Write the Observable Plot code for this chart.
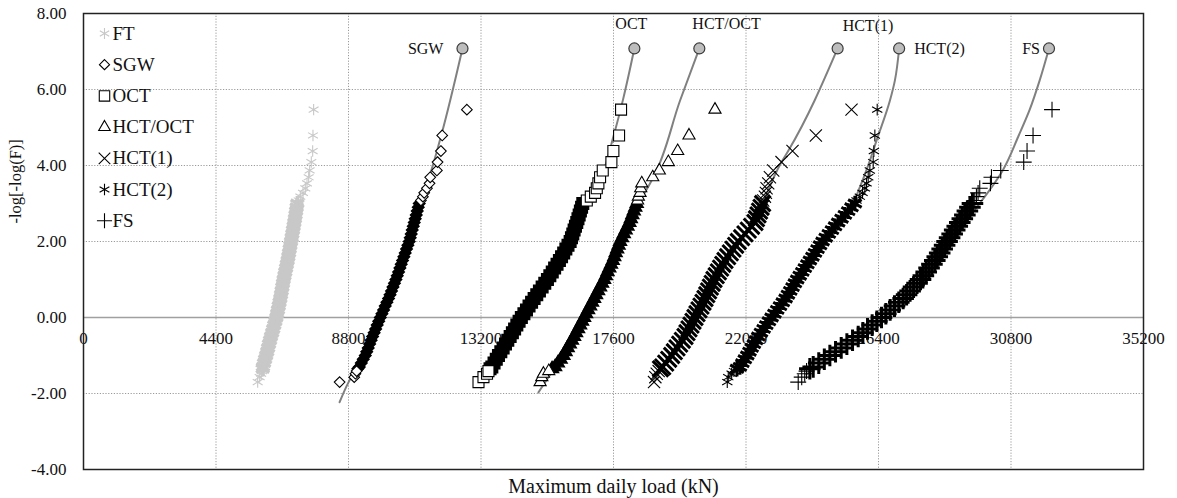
<!DOCTYPE html>
<html>
<head>
<meta charset="utf-8">
<script src="https://cdn.jsdelivr.net/npm/d3@7"></script>
<script src="https://cdn.jsdelivr.net/npm/@observablehq/plot@0.6"></script>
<style>
  html, body { margin: 0; padding: 0; background: #fff; }
  #chart { width: 1177px; height: 498px; }
  #chart svg text { font-family: "Liberation Serif", "Times New Roman", serif; }
</style>
</head>
<body>
<div id="chart"></div>
<script>
// ---- Data ----
const seriesNames = ["FT", "SGW", "OCT", "HCT/OCT", "HCT(1)", "HCT(2)", "FS"];

// Reduced variate -log[-log(F)] of the plotted points (shared by all series)
const yLevels = [-1.70,-1.57,-1.48,-1.41,-1.35,
  -1.30,-1.20,-1.10,-1.00,-0.90,-0.80,-0.70,-0.60,-0.50,-0.40,-0.30,-0.20,-0.10,0.00,
  0.10,0.20,0.30,0.40,0.50,0.60,0.70,0.80,0.90,1.00,1.10,1.20,1.30,1.40,1.50,1.60,1.70,1.80,1.90,2.00,
  2.10,2.20,2.30,2.40,2.50,2.60,2.70,2.80,2.90,3.00,
  3.08,3.18,3.28,3.40,3.53,3.69,3.87,4.09,4.38,4.79,5.47];

// Maximum daily load (kN) of each series at those levels
const xFT = [5784,5850,5900,5930,5950,
  5960,5995,6030,6065,6100,6130,6160,6195,6227,6265,6300,6335,6370,6404,
  6430,6458,6484,6510,6536,6558,6580,6603,6625,6647,6674,6700,6727,6753,6780,6802,6825,6847,6869,6891,
  6913,6935,6957,6979,7001,7021,7041,7060,7080,7100,
  7145,7200,7289,7366,7422,7477,7510,7565,7610,7620,7642];
const xSGW = [8505,8990,9030,9070,9110,
  9158,9225,9290,9357,9405,9455,9503,9552,9600,9651,9702,9753,9804,9855,
  9910,9965,10020,10075,10130,10179,10228,10277,10326,10375,10419,10463,10507,10551,10595,10639,10683,10727,10772,10817,
  10850,10883,10916,10950,10983,11016,11050,11083,11116,11149,
  11204,11270,11314,11404,11491,11513,11735,11757,11868,11912,12731];
const xOCT = [13117,13282,13400,13448,13500,
  13560,13633,13707,13780,13858,13935,14013,14090,14168,14242,14316,14390,14465,14540,
  14625,14710,14795,14880,14964,15052,15140,15230,15318,15406,15486,15566,15645,15725,15804,15875,15946,16018,16089,16160,
  16204,16248,16292,16336,16380,16420,16460,16500,16540,16580,
  16713,16846,16988,17045,17098,17154,17243,17530,17596,17785,17851];
const xHCTOCT = [15163,15219,15273,15450,15560,
  15661,15753,15845,15937,16008,16079,16149,16220,16291,16357,16424,16490,16557,16623,
  16689,16756,16822,16889,16955,17021,17088,17154,17221,17287,17345,17402,17460,17517,17575,17624,17672,17721,17769,17818,
  17880,17942,18003,18065,18127,18176,18225,18273,18322,18371,
  18400,18426,18481,18504,18538,18903,19122,19421,19731,20107,20970];
const xHCT1 = [18946,18990,19035,19100,19160,
  19234,19333,19433,19532,19620,19709,19797,19886,19974,20040,20107,20173,20240,20306,
  20372,20439,20505,20572,20638,20698,20758,20817,20877,20937,21010,21083,21156,21229,21302,21390,21479,21567,21656,21744,
  21855,21965,22076,22186,22297,22348,22399,22450,22501,22552,
  22572,22628,22661,22683,22738,22794,22904,23180,23545,24320,25504];
const xHCT2 = [21378,21411,21524,21600,21700,
  21799,21880,21961,22042,22115,22188,22261,22334,22407,22496,22585,22673,22762,22850,
  22943,23036,23129,23222,23315,23392,23469,23546,23623,23700,23784,23869,23953,24038,24122,24206,24290,24375,24459,24543,
  24647,24750,24854,24957,25061,25172,25283,25393,25504,25615,
  25670,25781,25870,25947,26003,26058,26113,26224,26246,26279,26357];
const xFS = [23734,23850,23950,24011,24120,
  24232,24416,24601,24785,24973,25162,25350,25538,25726,25881,26035,26190,26345,26500,
  26644,26787,26931,27074,27218,27333,27449,27564,27680,27795,27890,27985,28079,28174,28269,28351,28432,28514,28595,28677,
  28761,28846,28930,29015,29099,29183,29268,29352,29436,29520,
  29596,29652,29707,29762,30117,30151,30459,31222,31333,31532,32162];

// Fitted distribution curves: [load, reduced variate]
const fitSGW = [[8504,-2.23],[8803,-1.70],[9357,-1.00],[9855,0],[10375,1.0],[10817,2.0],[11149,3.0],[11513,3.78],[11878,4.79],[12585,7.08]];
const fitOCT = [[13063,-1.83],[13560,-1.30],[14168,-0.50],[14964,0.50],[15804,1.50],[16380,2.50],[16780,3.00],[17066,3.43],[17620,4.83],[17918,5.74],[18293,7.08]];
const fitHCTOCT = [[15108,-1.97],[15661,-1.30],[16291,-0.50],[16955,0.50],[17575,1.50],[18127,2.50],[18420,3.00],[18650,3.30],[18925,3.69],[19811,5.71],[20450,7.08]];
const fitHCT1 = [[18946,-1.70],[19234,-1.30],[19974,-0.50],[20638,0.50],[21302,1.50],[21744,2.00],[22297,2.50],[22552,3.00],[23180,4.09],[23400,4.38],[25043,7.08]];
const fitHCT2 = [[21450,-1.60],[22042,-1.00],[22850,0],[23790,0.97],[24564,1.85],[25339,2.65],[25781,3.43],[26113,4.13],[26336,4.66],[26780,5.71],[26945,6.24],[27085,7.08]];
const fitFS = [[24000,-1.50],[24850,-1.00],[25726,-0.50],[26550,0],[27218,0.50],[27850,1.00],[28657,1.85],[29320,2.55],[29760,3.00],[30525,3.87],[31056,4.79],[31421,5.47],[31752,6.24],[32062,7.08]];

// End-point markers of the fitted curves
const peakNames = ["SGW", "OCT", "HCT/OCT", "HCT(1)", "HCT(2)", "FS"];
const peakLoad = [12585, 18293, 20450, 25043, 27085, 32062];
const peakVariate = [7.08, 7.08, 7.08, 7.08, 7.08, 7.08];

// Axis ticks
const xTicks = [0, 4400, 8800, 13200, 17600, 22000, 26400, 30800, 35200];
const yTicks = [-4, -2, 0, 2, 4, 6, 8];

// ---- Build ----
const FONT = "'Liberation Serif', 'Times New Roman', serif";
const seriesX = [xFT, xSGW, xOCT, xHCTOCT, xHCT1, xHCT2, xFS];
const fits = [fitSGW, fitOCT, fitHCTOCT, fitHCT1, fitHCT2, fitFS];

// closed: symbol has an outline that overlaps into a solid band where points are dense
const style = {
  "FT":      {symbol: "asterisk",  stroke: "#c8c8c8", r: 5.4, closed: false, sw: 3.4, rb: 7.2},
  "SGW":     {symbol: "diamond2",  stroke: "#000", r: 4.8, closed: true,  sw: 1.4, rb: 5.2},
  "OCT":     {symbol: "square2",   stroke: "#000", r: 7,   closed: true,  sw: 1.4, rb: 7.4},
  "HCT/OCT": {symbol: "triangle2", stroke: "#000", r: 5.8, closed: true,  sw: 1.4, rb: 6.2},
  "HCT(1)":  {symbol: "times",     stroke: "#000", r: 5.6, closed: false, sw: 3.0, rb: 7.2},
  "HCT(2)":  {symbol: "asterisk",  stroke: "#000", r: 5.6, closed: false, sw: 3.0, rb: 7.4},
  "FS":      {symbol: "plus",      stroke: "#000", r: 5.2, closed: false, sw: 3.0, rb: 7.0}
};

const pointSets = seriesNames.map((name, i) =>
  seriesX[i].map((x, j) => ({series: name, x, y: yLevels[j], body: yLevels[j] >= -1.35 && yLevels[j] <= 3.0})));

const peaks = peakNames.map((name, i) => ({name, x: peakLoad[i], y: peakVariate[i]}));

// label placement (screen offsets relative to the end-point marker)
const labelOpts = {
  "SGW":     {dx: -19, dy: 0,   textAnchor: "end"},
  "OCT":     {dx: -19, dy: -25, textAnchor: "start"},
  "HCT/OCT": {dx: -7,  dy: -25, textAnchor: "start"},
  "HCT(1)":  {dx: 5,   dy: -23, textAnchor: "start"},
  "HCT(2)":  {dx: 15,  dy: 0,   textAnchor: "start"},
  "FS":      {dx: -9,  dy: 0,   textAnchor: "end"}
};

const gridStyle = {stroke: "#9a9a9a", strokeWidth: 1, strokeDasharray: "1.2,1.6"};
const txt = {fontFamily: FONT, fill: "#111", lineAnchor: "middle"};

const marks = [
  Plot.ruleX(xTicks.slice(1, -1), gridStyle),
  Plot.ruleY(yTicks.filter(d => d !== 0 && d !== -4 && d !== 8), gridStyle),
  Plot.ruleY([0], {stroke: "#a0a0a0", strokeWidth: 1.5}),
  Plot.text(xTicks, {x: d => d, y: 0, dy: 21, text: d => String(d), fontSize: 17, ...txt}),
  Plot.text(yTicks, {y: d => d, frameAnchor: "left", dx: -17, textAnchor: "end",
                      text: d => d.toFixed(2), fontSize: 17, ...txt}),
  ...fits.map(f => Plot.line(f, {x: d => d[0], y: d => d[1], stroke: "#808080", strokeWidth: 2, curve: "monotone-y"})),
  // dense body of each sample (overlapping into a solid band)
  ...pointSets.map((pts, i) => {
    const s = style[seriesNames[i]];
    return Plot.dot(pts.filter(d => d.body), {x: "x", y: "y", symbol: s.symbol, stroke: s.stroke, r: s.rb,
      strokeWidth: s.sw, fill: s.closed ? s.stroke : "none"});
  }),
  // sparse tails (open markers)
  ...pointSets.map((pts, i) => {
    const s = style[seriesNames[i]];
    return Plot.dot(pts.filter(d => !d.body), {x: "x", y: "y", symbol: s.symbol, stroke: s.stroke, r: s.r,
      strokeWidth: 1.1, fill: s.closed ? "#fff" : "none"});
  }),
  Plot.dot(peaks, {x: "x", y: "y", r: 5.5, fill: "#bdbdbd", stroke: "#3a3a3a", strokeWidth: 1.2}),
  ...peakNames.map(name => Plot.text(peaks.filter(p => p.name === name),
      {x: "x", y: "y", text: "name", fontSize: 16, ...txt, ...labelOpts[name]})),
  // legend inside the plot area
  ...seriesNames.map((name, i) => {
    const s = style[name];
    return Plot.dot([name], {frameAnchor: "top-left", dx: 21, dy: 20 + i * 31.2,
      symbol: s.symbol, stroke: s.stroke, r: s.r * 0.95, strokeWidth: 1.1, fill: "none"});
  }),
  ...seriesNames.map((name, i) => Plot.text([name], {frameAnchor: "top-left", dx: 29, dy: 20 + i * 31.2,
      text: d => d, textAnchor: "start", fontSize: 19, ...txt})),
  Plot.text(["Maximum daily load (kN)"], {frameAnchor: "bottom", dy: 17, text: d => d, fontSize: 20, ...txt}),
  Plot.text(["-log[-log(F)]"], {frameAnchor: "left", dx: -68, dy: -18, rotate: -90, text: d => d, fontSize: 16.5, ...txt}),
  Plot.frame({stroke: "#222", strokeWidth: 1.5})
];

const chart = Plot.plot({
  width: 1177,
  height: 498,
  marginLeft: 83,
  marginRight: 34,
  marginTop: 13,
  marginBottom: 29,
  x: {domain: [0, 35200], axis: null},
  y: {domain: [-4, 8], axis: null},
  style: {fontFamily: FONT, background: "#fff", color: "#111"},
  marks
});
document.getElementById("chart").appendChild(chart);
</script>
</body>
</html>
